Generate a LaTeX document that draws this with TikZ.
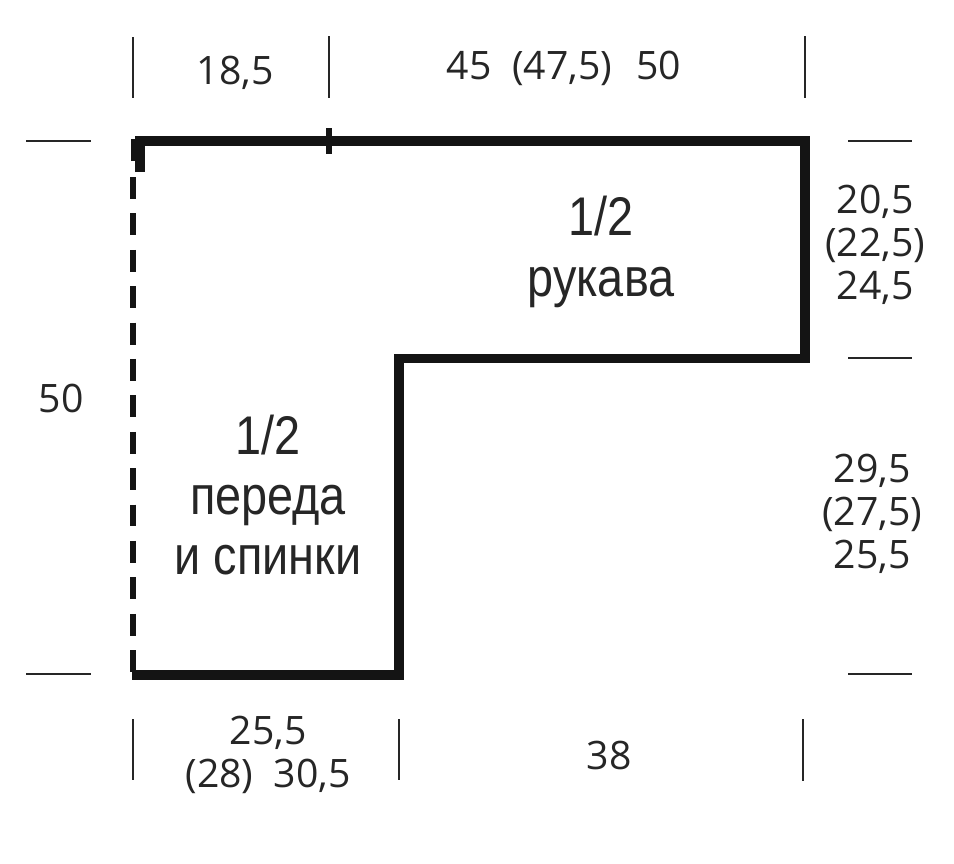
\documentclass[tikz,border=0pt]{standalone}
\usepackage{fontspec}
\setmainfont{Open Sans}
\newfontfamily\narrowfont[FakeStretch=0.86]{Liberation Sans}
\tikzset{
  px/.style={x=0.0264583cm,y=-0.0264583cm},
  tick/.style={line width=2.2pt,black!85},
  outline/.style={line width=7.5pt,black!92},
  dimlabel/.style={font=\fontsize{29.5}{32.5}\selectfont,text=black!85,align=center,inner sep=0pt},
  partlabel/.style={font=\narrowfont\fontsize{41}{45.5}\selectfont,text=black!85,align=center,inner sep=0pt}
}
\begin{document}
\begin{tikzpicture}[px]
  \useasboundingbox (0,0) rectangle (954,863);
  % corners of the outline
  \coordinate (tl) at (135,141);
  \coordinate (tr) at (805,141);
  \coordinate (mr) at (805,358.5);
  \coordinate (mi) at (399,358.5);
  \coordinate (bi) at (399,675);
  \coordinate (bl) at (132,675);
  \draw[outline,line join=miter] (tl)--(tr)--(mr)--(mi)--(bi)--(bl);
  % fold line
  \coordinate (fa) at (133,177);
  \coordinate (fb) at (133,675);
  \draw[line width=5pt,black!92,dash pattern=on 16.5pt off 10.9pt] (fa)--(fb);
  % thick corner
  \coordinate (na) at (140,172);
  \coordinate (nb) at (140,137);
  \coordinate (nc) at (134.5,161);
  \coordinate (nd) at (134.5,139);
  \draw[line width=7.5pt,black!92] (na)--(nb);
  \draw[line width=5pt,black!92] (nc)--(nd);
  % shoulder mark
  \coordinate (sa) at (329,128);
  \coordinate (sb) at (329,154);
  \draw[line width=4.5pt,black!92] (sa)--(sb);
  % measure ticks
  \foreach \x/\ya/\yb in {133/37/98,329/36/98,805/36/98,133/719/780,399/719/780,803/719/781}
    \draw[tick] (\x,\ya)--(\x,\yb);
  \foreach \xa/\xb/\y in {26/91/141,848/912/141,848/912/358,26/91/674,848/912/674}
    \draw[tick] (\xa,\y)--(\xb,\y);
  % labels
  \node[dimlabel] (topa) at (235,73) {18,5};
  \node[dimlabel] (topb) at (564,68) {45\ \ (47,5)\hspace{0.62em}50};
  \node[dimlabel] (lefta) at (61,398) {50};
  \node[dimlabel] (righta) at (875,245) {20,5\\(22,5)\\24,5};
  \node[dimlabel] (rightb) at (872,514) {29,5\\(27,5)\\25,5};
  \node[dimlabel] (bota) at (268,755) {25,5\\(28)\ \ 30,5};
  \node[dimlabel] (botb) at (609,755) {38};
  \node[partlabel] (sleeve) at (601,252) {1/2\\рукава};
  \node[partlabel] (body) at (268,495) {1/2\\переда\\и спинки};
\end{tikzpicture}
\end{document}
